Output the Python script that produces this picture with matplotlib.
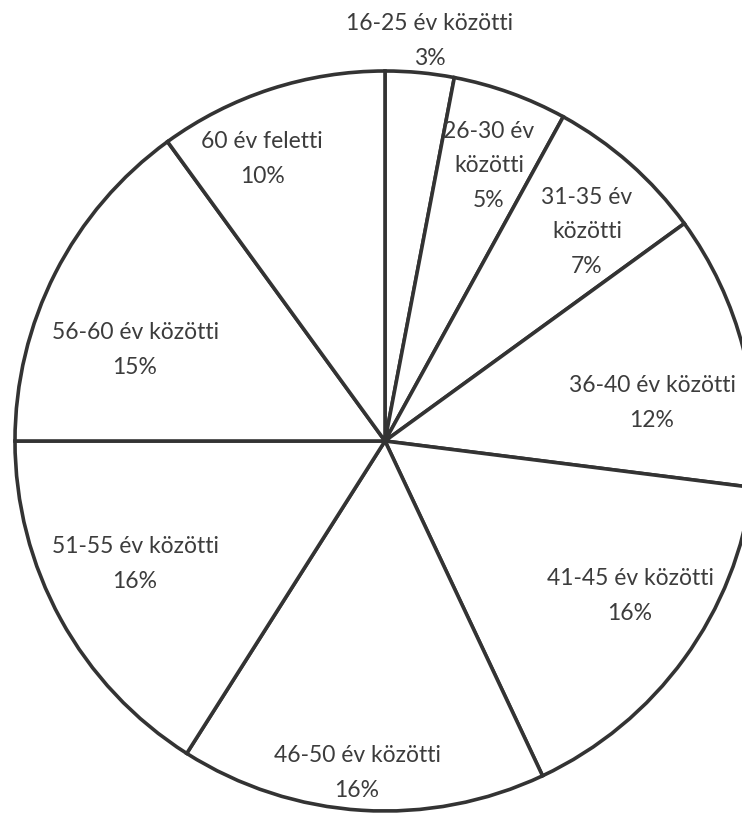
import matplotlib
matplotlib.use("Agg")
import matplotlib.pyplot as plt

categories = ["16-25 év közötti", "26-30 év\nközötti", "31-35 év\nközötti",
              "36-40 év közötti", "41-45 év közötti", "46-50 év közötti",
              "51-55 év közötti", "56-60 év közötti", "60 év feletti"]
values = [3, 5, 7, 12, 16, 16, 16, 15, 10]

# label anchor positions in pixel coords (x, y from top) - layout only
label_pos = [(430, 41), (489, 166), (587, 232), (652, 403), (630, 596),
             (357, 773), (135, 564), (135, 350), (262, 159)]

W, H = 742, 813
fig = plt.figure(figsize=(W / 100, H / 100), dpi=100)
ax = fig.add_axes([0, 0, 1, 1])
cx, cy, r = 385, 441, 370
ax.pie(values, startangle=90, counterclock=False, center=(cx, H - cy), radius=r,
       colors=["white"] * len(values),
       wedgeprops=dict(edgecolor="#333333", linewidth=2.6))
ax.set_xlim(0, W)
ax.set_ylim(0, H)
ax.set_aspect("auto")
ax.axis("off")

for lab, v, (x, y) in zip(categories, values, label_pos):
    ax.text(x, H - y, f"{lab}\n{v}%", ha="center", va="center",
            fontsize=16.5, family=["Lato", "DejaVu Sans"], color="#3c3c3c",
            linespacing=1.8)

fig.savefig("out.png", dpi=100, facecolor="white")
